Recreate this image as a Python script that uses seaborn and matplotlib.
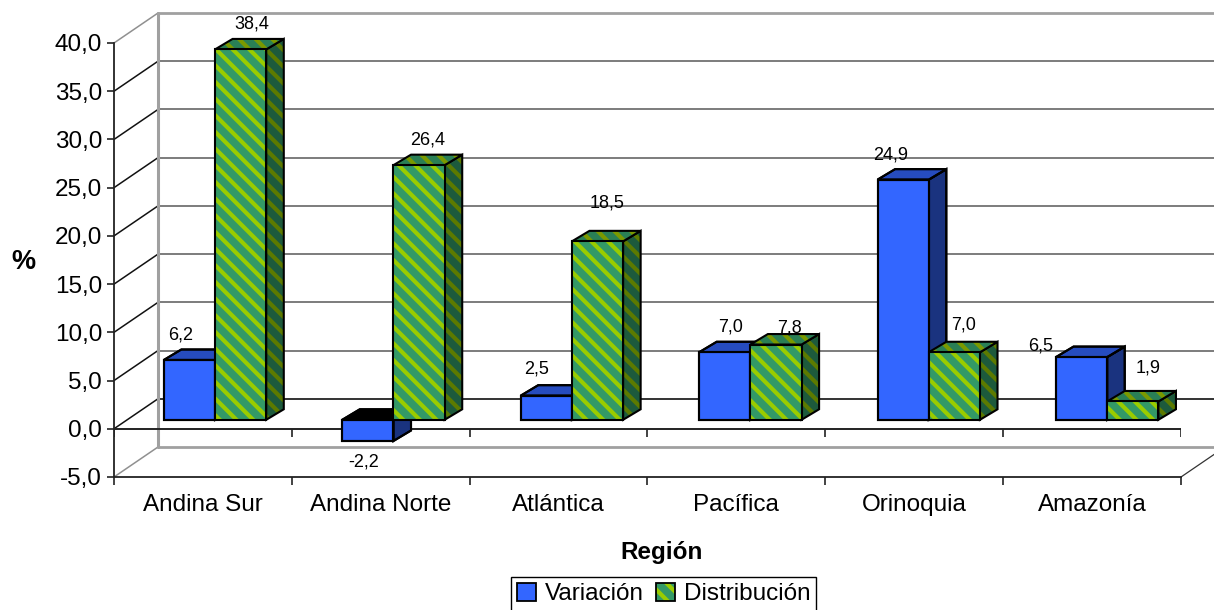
import matplotlib
matplotlib.use('Agg')
import matplotlib.pyplot as plt
import numpy as np
import pandas as pd
import seaborn as sns
from matplotlib.patches import Patch, Polygon, Rectangle

regiones = ['Andina Sur', 'Andina Norte', 'Atlántica', 'Pacífica', 'Orinoquia', 'Amazonía']
variacion = [6.2, -2.2, 2.5, 7.0, 24.9, 6.5]
distribucion = [38.4, 26.4, 18.5, 7.8, 7.0, 1.9]
y_ticks = [-5, 0, 5, 10, 15, 20, 25, 30, 35, 40]

# label offsets from the bar end, in pixels
offset_var = [(-9, 25), (-4, -21), (-10, 27), (6, 25), (-13, 25), (-41, 11)]
offset_dist = [(11, 25), (9, 25), (10, 38), (14, 17), (9, 27), (15, 33)]

sns.set_theme(style='white')
plt.rcParams['font.family'] = ['Liberation Sans', 'DejaVu Sans']
plt.rcParams['hatch.linewidth'] = 3.0
plt.rcParams['text.color'] = 'black'
plt.rcParams['axes.labelcolor'] = 'black'
plt.rcParams['xtick.labelcolor'] = 'black'
plt.rcParams['ytick.labelcolor'] = 'black'

W, H = 1214, 610
fig = plt.figure(figsize=(W / 100, H / 100), dpi=100)

# front plane of the chart, in pixels of the picture
x_left, x_right, y_bottom, y_top = 114, 1181, 477, 43
ax = fig.add_axes([x_left / W, 1 - y_bottom / H, (x_right - x_left) / W, (y_bottom - y_top) / H])
# the bars stand a little further back
ax_bars = fig.add_axes([125.8 / W, 1 - (y_bottom - 9) / H, 1070.6 / W, (y_bottom - y_top) / H])
ax_bars.set_zorder(ax.get_zorder() + 1)

xlim = (-0.5, 5.5)
ylim = (-5, 40)
ax.set_xlim(xlim)
ax.set_ylim(ylim)

px_x = (xlim[1] - xlim[0]) / (x_right - x_left)
px_y = (ylim[1] - ylim[0]) / (y_bottom - y_top)
wall_dx, wall_dy = 44 * px_x, 30 * px_y
bar_dx, bar_dy = 17.5 * px_x, 10.5 * px_y

# back wall and left wall
for v in y_ticks:
    if v in (-5, 40):
        c, lw = '#a0a0a0', 2.0
    elif v == 0:
        c, lw = '#111111', 1.2
    else:
        c, lw = '#666666', 1.2
    ax.plot([xlim[0] + wall_dx, xlim[1] + wall_dx], [v + wall_dy, v + wall_dy], color=c, lw=lw, clip_on=False, zorder=1)
    ax.plot([xlim[0], xlim[0] + wall_dx], [v, v + wall_dy],
            color='#909090' if v in (-5, 40) else '#111111', lw=1.1, clip_on=False, zorder=1)
ax.plot([xlim[0] + wall_dx] * 2, [ylim[0] + wall_dy, ylim[1] + wall_dy], color='#a0a0a0', lw=2.2, clip_on=False, zorder=1)
ax.plot([xlim[1], xlim[1] + wall_dx], [ylim[0], ylim[0] + wall_dy], color='#333333', lw=0.9, clip_on=False, zorder=1)

# zero line with its ticks
bounds = np.arange(-0.5, 6, 1)
ax.plot(xlim, [0, 0], color='#222222', lw=1.4, zorder=2)
ax.vlines(bounds, -8 * px_y, 0, color='#222222', lw=1.2, zorder=2)

df = pd.DataFrame({
    'region': regiones * 2,
    'serie': ['Variación'] * 6 + ['Distribución'] * 6,
    'valor': variacion + distribucion,
})
sns.barplot(data=df, x='region', y='valor', hue='serie', ax=ax_bars, order=regiones,
            palette={'Variación': '#3366FF', 'Distribución': '#339966'},
            width=0.574, gap=0, saturation=1, errorbar=None, legend=False)
ax_bars.set_xlim(xlim)
ax_bars.set_ylim(ylim)
ax_bars.axis('off')
ax_bars.patch.set_visible(False)

blue_style = {'front': ('#3366FF', None), 'top': ('#264CBF', None), 'side': ('#1A337F', None)}
green_style = {'front': ('#339966', '#99CC00'), 'top': ('#2A7F55', '#7A9900'), 'side': ('#1D5A3C', '#5C7A00')}
stripe = '\\\\'
outline = 1.5


def paint(patch, face, hatch_color):
    patch.set_facecolor(face)
    patch.set_clip_on(False)
    if hatch_color:
        patch.set_edgecolor(hatch_color)
        patch.set_hatch(stripe)
        patch.set_linewidth(0)
    else:
        patch.set_edgecolor('black')
        patch.set_linewidth(outline)


def add_face(points, face, hatch_color, z):
    poly = Polygon(points, closed=True, zorder=z)
    ax_bars.add_patch(poly)
    paint(poly, face, hatch_color)
    ax_bars.add_patch(Polygon(points, closed=True, fill=False, edgecolor='black', lw=outline, zorder=z + 0.1, clip_on=False))


z = 3
for container, values, style, offsets in zip(ax_bars.containers, [variacion, distribucion],
                                             [blue_style, green_style], [offset_var, offset_dist]):
    for bar, val, off in zip(container.patches, values, offsets):
        x0, x1 = bar.get_x(), bar.get_x() + bar.get_width()
        lo, hi = min(0, val), max(0, val)
        side = [(x1, lo), (x1, hi), (x1 + bar_dx, hi + bar_dy), (x1 + bar_dx, lo + bar_dy)]
        top = [(x0, hi), (x1, hi), (x1 + bar_dx, hi + bar_dy), (x0 + bar_dx, hi + bar_dy)]
        add_face(side, style['side'][0], style['side'][1], z)
        # the negative bar shows a black cap
        if val < 0:
            add_face(top, 'black', None, z + 1)
        else:
            add_face(top, style['top'][0], style['top'][1], z + 1)
        paint(bar, style['front'][0], style['front'][1])
        bar.set_zorder(z + 2)
        ax_bars.add_patch(Rectangle((x0, lo), x1 - x0, hi - lo, fill=False, edgecolor='black',
                                    lw=outline, zorder=z + 2.1, clip_on=False))
        ax_bars.annotate(f'{val:.1f}'.replace('.', ','), xy=((x0 + x1) / 2, val),
                         xytext=(off[0] * 0.72, off[1] * 0.72), textcoords='offset points',
                         ha='center', va='center', fontsize=13, color='black',
                         annotation_clip=False, zorder=40)
        z += 3

# axes of the front plane
sns.despine(ax=ax, top=True, right=True)
for s in ('left', 'bottom'):
    ax.spines[s].set_color('#222222')
    ax.spines[s].set_linewidth(1.3)
ax.patch.set_visible(False)
ax.set_yticks(y_ticks)
ax.set_yticklabels([f'{v:.1f}'.replace('.', ',') for v in y_ticks], fontsize=17.5)
ax.set_xticks(range(6))
ax.set_xticklabels(regiones, fontsize=17.5)
ax.set_xticks(bounds, minor=True)
ax.tick_params(axis='y', which='major', left=True, length=5, width=1.2, color='#222222', pad=3.5)
ax.tick_params(axis='x', which='major', bottom=False, pad=6.5)
ax.tick_params(axis='x', which='minor', bottom=True, length=6, width=1.2, color='#222222')

ax.set_xlabel('Región', fontsize=17.5, fontweight='bold')
ax.xaxis.set_label_coords((662 - x_left) / (x_right - x_left), (y_bottom - 552) / (y_bottom - y_top))
ax.xaxis.label.set_verticalalignment('center')
ax.set_ylabel('%', fontsize=19.5, fontweight='bold', rotation=0, ha='center', va='center')
ax.yaxis.set_label_coords((23.5 - x_left) / (x_right - x_left), (y_bottom - 262) / (y_bottom - y_top))

handles = [
    Patch(facecolor='#3366FF', edgecolor='black', lw=1.3),
    (Patch(facecolor='#339966', edgecolor='#99CC00', hatch=stripe, lw=0),
     Patch(fill=False, edgecolor='black', lw=1.3)),
]
fig.legend(handles, ['Variación', 'Distribución'], loc='center', bbox_to_anchor=(663.5 / W, 1 - 594 / H),
           fontsize=17.5, frameon=True, fancybox=False, edgecolor='black', framealpha=1,
           ncol=2, handlelength=0.8, handleheight=0.8, handletextpad=0.35, columnspacing=0.5,
           borderpad=0.25, borderaxespad=0)

fig.savefig('out.png', dpi=100)
